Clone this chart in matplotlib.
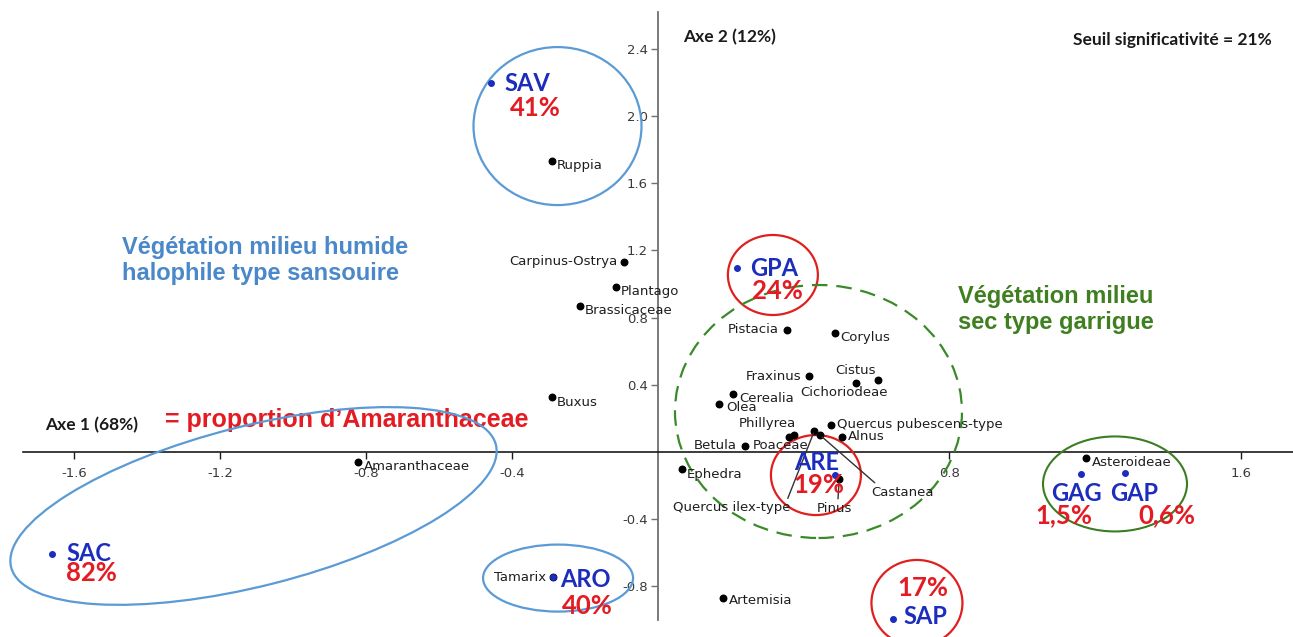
import matplotlib
matplotlib.use('Agg')
import matplotlib.pyplot as plt
from matplotlib.patches import Ellipse
from matplotlib.transforms import Affine2D

plt.rcParams['axes.unicode_minus'] = False

# --- data: correspondence analysis, axes 1 and 2 ---
species = ['Ruppia', 'Carpinus-Ostrya', 'Plantago', 'Brassicaceae', 'Buxus',
           'Amaranthaceae', 'Tamarix', 'Artemisia', 'Pistacia', 'Corylus',
           'Fraxinus', 'Cistus', 'Cichoriodeae', 'Cerealia', 'Olea',
           'Phillyrea', 'Poaceae', 'Quercus ilex-type', 'Castanea',
           'Quercus pubescens-type', 'Alnus', 'Betula', 'Ephedra', 'Pinus',
           'Asteroideae']
species_ax1 = [-0.289, -0.091, -0.115, -0.213, -0.290, -0.821, -0.287, 0.179,
               0.354, 0.485, 0.416, 0.604, 0.543, 0.208, 0.168, 0.375, 0.361,
               0.430, 0.445, 0.475, 0.506, 0.240, 0.066, 0.498, 1.174]
species_ax2 = [1.731, 1.132, 0.980, 0.869, 0.327, -0.058, -0.744, -0.867,
               0.726, 0.706, 0.452, 0.428, 0.410, 0.345, 0.286, 0.103, 0.091,
               0.127, 0.101, 0.161, 0.091, 0.037, -0.103, -0.161, -0.037]

sites = ['SAV', 'SAC', 'ARO', 'GPA', 'ARE', 'SAP', 'GAG', 'GAP']
sites_ax1 = [-0.457, -1.661, -0.287, 0.217, 0.485, 0.646, 1.160, 1.282]
sites_ax2 = [2.197, -0.609, -0.744, 1.093, -0.137, -0.993, -0.131, -0.127]
amaranth_pct = [41, 82, 40, 24, 19, 17, 1.5, 0.6]

xticks = [-1.6, -1.2, -0.8, -0.4, 0.8, 1.6]
yticks = [2.4, 2.0, 1.6, 1.2, 0.8, 0.4, -0.4, -0.8]

# --- label placement (pixel offsets from the point, ha) ---
sp_off = {
    'Ruppia': (5, -4, 'left'), 'Carpinus-Ostrya': (-7, 0, 'right'),
    'Plantago': (5, -4, 'left'), 'Brassicaceae': (5, -5, 'left'),
    'Buxus': (5, -5, 'left'), 'Amaranthaceae': (6, -5, 'left'),
    'Tamarix': (-7, 0, 'right'), 'Artemisia': (6, -3, 'left'),
    'Pistacia': (-8, 0, 'right'), 'Corylus': (6, -4, 'left'),
    'Fraxinus': (-8, 0, 'right'), 'Cistus': (-2, 10, 'right'),
    'Cichoriodeae': (-12, -9, 'center'), 'Cerealia': (6, -4, 'left'),
    'Olea': (7, -4, 'left'), 'Phillyrea': (2, 11, 'right'),
    'Poaceae': (-37, -9, 'left'), 'Quercus ilex-type': (-83, -77, 'center'),
    'Castanea': (83, -57, 'center'), 'Quercus pubescens-type': (6, 0, 'left'),
    'Alnus': (6, 0, 'left'), 'Betula': (-8, 0, 'right'),
    'Ephedra': (5, -5, 'left'), 'Pinus': (-5, -29, 'center'),
    'Asteroideae': (6, -4, 'left'),
}
leaders = {'Quercus ilex-type': (0.97, 1.0), 'Castanea': (0.1, 1.0),
           'Pinus': (0.6, 1.0)}
site_off = {
    'SAV': ((14, -1, 'left'), (44, -25)), 'SAC': ((15, 1, 'left'), (40, -19)),
    'ARO': ((7, -2, 'left'), (34, -29)), 'GPA': ((13, 0, 'left'), (41, -23)),
    'ARE': ((-18, 13, 'center'), (-16, -10)), 'SAP': ((10, 2, 'left'), (30, 31)),
    'GAG': ((-4, -19, 'center'), (-17, -41)), 'GAP': ((9, -20, 'center'), (42, -42)),
}

BLUE = '#1C2DBE'
RED = '#E31B23'
LBLUE = '#5B9BD5'
GREEN = '#3C7D22'

fig = plt.figure(figsize=(12.93, 6.37), dpi=100)
ax = fig.add_axes([0, 0, 1, 1])
ax.set_xlim(-1.803, 1.742)
ax.set_ylim(-1.1005, 2.689)
ax.set_facecolor('white')

for s in ['top', 'right']:
    ax.spines[s].set_visible(False)
ax.spines['left'].set_position(('data', 0))
ax.spines['bottom'].set_position(('data', 0))
ax.spines['left'].set_bounds(-0.999, 2.617)
ax.spines['bottom'].set_bounds(-1.741, 1.742)
ax.spines['left'].set_color('#707070')
ax.spines['bottom'].set_color('#1a1a1a')
ax.spines['left'].set_linewidth(1.3)
ax.spines['bottom'].set_linewidth(1.2)

ax.set_xticks(xticks)
ax.set_xticklabels([f'{t:.1f}' for t in xticks])
ax.set_yticks(yticks)
ax.set_yticklabels([f'{t:.1f}' for t in yticks])
ax.tick_params(axis='both', direction='out', length=5, width=1,
               labelsize=9.5, labelcolor='#3a3a3a')
ax.tick_params(axis='x', pad=6, color='#1a1a1a')
ax.tick_params(axis='y', pad=2, color='#707070')

# species points
ax.scatter(species_ax1, species_ax2, s=22, color='black', zorder=4)
for name, x, y in zip(species, species_ax1, species_ax2):
    dx, dy, ha = sp_off[name]
    kw = {}
    if name in leaders:
        kw['arrowprops'] = dict(arrowstyle='-', color='#333333', lw=1,
                                shrinkA=0, shrinkB=2, relpos=leaders[name])
    ax.annotate(name, (x, y), xytext=(dx, dy), textcoords='offset pixels',
                ha=ha, va='center', fontsize=9.5, color='#1e1e1e',
                family='DejaVu Sans', zorder=5, **kw)

# sites
ax.scatter(sites_ax1, sites_ax2, s=16, color=BLUE, zorder=4)
for name, x, y, p in zip(sites, sites_ax1, sites_ax2, amaranth_pct):
    (dx, dy, ha), (px, py) = site_off[name]
    ax.annotate(name, (x, y), xytext=(dx, dy), textcoords='offset pixels',
                ha=ha, va='center', fontsize=17, fontweight='bold',
                color=BLUE, family='Lato', zorder=6)
    lab = f'{p:g}'.replace('.', ',') + '%'
    ax.annotate(lab, (x, y), xytext=(px, py), textcoords='offset pixels',
                ha='center', va='center', fontsize=18.5, fontweight='bold',
                color=RED, family='Lato', zorder=6)


def ring(cx, cy, w, h, angle=0, **kw):
    """ellipse centred on data point, size in pixels"""
    X, Y = ax.transData.transform((cx, cy))
    tr = Affine2D().scale(w / 2, h / 2).rotate_deg(angle).translate(X, Y)
    ax.add_patch(Ellipse((0, 0), 2, 2, transform=tr, fill=False, zorder=3, **kw))


ring(-0.2745, 1.939, 168, 158, color=LBLUE, lw=1.6)
ring(-1.108, -0.321, 500, 160, angle=14.2, color=LBLUE, lw=1.6)
ring(-0.273, -0.750, 150, 67, color=LBLUE, lw=1.6)
ring(0.316, 1.053, 90, 80, color='#E0201F', lw=1.6)
ring(0.434, -0.137, 90, 80, color='#E0201F', lw=1.6)
ring(0.711, -0.898, 91, 86, color='#E0201F', lw=1.6)
ring(1.254, -0.190, 144, 95, color=GREEN, lw=1.5)
ring(0.441, 0.241, 287, 253, color='#3A8A2A', lw=1.6, linestyle=(0, (7, 4)))

# annotations
T = ax.transAxes
ax.text(122 / 1293, 1 - 236 / 637, 'Végétation milieu humide\nhalophile type sansouire',
        transform=T, ha='left', va='top', fontsize=17, fontweight='bold',
        color='#4A88C9', family='Liberation Sans', linespacing=1.15)
ax.text(958 / 1293, 1 - 285 / 637, 'Végétation milieu\nsec type garrigue',
        transform=T, ha='left', va='top', fontsize=17, fontweight='bold',
        color='#3F7F20', family='Liberation Sans', linespacing=1.15)
ax.text(165 / 1293, 1 - 420 / 637, '= proportion d’Amaranthaceae',
        transform=T, ha='left', va='center', fontsize=18, fontweight='bold',
        color=RED, family='Liberation Sans', zorder=2)
ax.text(45 / 1293, 1 - 425 / 637, 'Axe 1 (68%)', transform=T, ha='left',
        va='center', fontsize=12.5, fontweight='bold', color='#1a1a1a', family='Lato')
ax.text(683 / 1293, 1 - 37 / 637, 'Axe 2 (12%)', transform=T, ha='left',
        va='center', fontsize=12.5, fontweight='bold', color='#1a1a1a', family='Lato')
ax.text(1272 / 1293, 1 - 40 / 637, 'Seuil significativité = 21%', transform=T,
        ha='right', va='center', fontsize=12.5, fontweight='bold',
        color='#1a1a1a', family='Lato')

fig.savefig('out.png', dpi=100, facecolor='white')
